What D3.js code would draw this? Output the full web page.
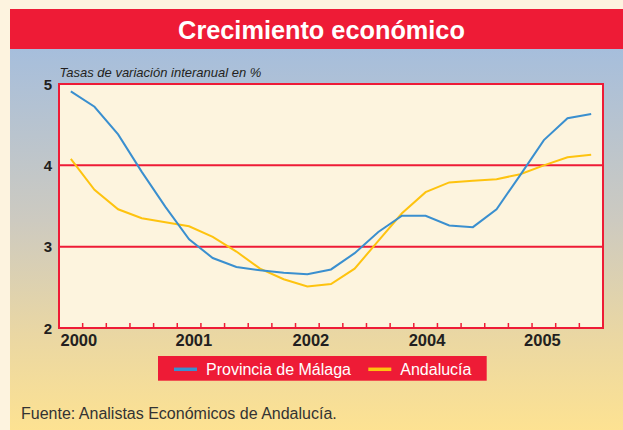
<!DOCTYPE html>
<html>
<head>
<meta charset="utf-8">
<script src="https://cdn.jsdelivr.net/npm/d3@7"></script>
<style>
  body { margin: 0; background: #fdf3df; }
  svg { display: block; font-family: "Liberation Sans", Arial, sans-serif; }
</style>
</head>
<body>
<div id="chart"></div>
<script>
// quarterly data, 2000 Q1 .. 2005 Q3
var malaga = [4.91, 4.72, 4.38, 3.92, 3.49, 3.09, 2.86, 2.75, 2.71, 2.68, 2.66, 2.72,
  2.92, 3.18, 3.38, 3.38, 3.26, 3.24, 3.46, 3.88, 4.31, 4.58, 4.63]
var andalucia = [4.08, 3.70, 3.46, 3.35, 3.30, 3.25, 3.12, 2.94, 2.73, 2.60, 2.51, 2.54,
  2.73, 3.07, 3.41, 3.67, 3.79, 3.81, 3.83, 3.89, 4.00, 4.10, 4.13]
var yTicks = [2, 3, 4, 5]
var gridValues = [3, 4]
var yearLabels = ['2000', '2001', '2002', '2004', '2005']
var yearLabelAt = [0.84, 5.7, 10.65, 15.56, 20.44] // position in quarters
var seriesNames = ['Provincia de Málaga', 'Andalucía']

var width = 623, height = 430
var red = '#ee1b36', blue = '#3a8fcf', yellow = '#fec30f', ink = '#231f20'

var svg = d3.select('#chart').append('svg')
  .attr('width', width)
  .attr('height', height)

var grad = svg.append('defs').append('linearGradient')
  .attr('id', 'bg').attr('x1', 0).attr('y1', 0).attr('x2', 0).attr('y2', 1)
grad.append('stop').attr('offset', '0%').attr('stop-color', '#a6bedc')
grad.append('stop').attr('offset', '45%').attr('stop-color', '#cdcac0')
grad.append('stop').attr('offset', '75%').attr('stop-color', '#ead7a3')
grad.append('stop').attr('offset', '100%').attr('stop-color', '#fde292')

// panel + header
svg.append('rect').attr('x', 10).attr('y', 49).attr('width', width - 10).attr('height', height - 49)
  .attr('fill', 'url(#bg)')
svg.append('rect').attr('x', 10).attr('y', 9).attr('width', width - 10).attr('height', 40)
  .attr('fill', red)
svg.append('text').attr('x', 321.5).attr('y', 38.5)
  .attr('text-anchor', 'middle')
  .attr('fill', '#fff').attr('font-size', 25.3).attr('font-weight', 'bold')
  .text('Crecimiento económico')

var x = d3.scaleLinear().domain([0, malaga.length]).range([59, 603])
var y = d3.scaleLinear().domain([2, 5]).range([328, 84])

svg.append('rect')
  .attr('x', x(0)).attr('y', y(5))
  .attr('width', x(malaga.length) - x(0)).attr('height', y(2) - y(5))
  .attr('fill', '#fdf4de')

svg.selectAll('.grid').data(gridValues).enter().append('line')
  .attr('class', 'grid')
  .attr('x1', x(0)).attr('x2', x(malaga.length))
  .attr('y1', function(d){return y(d)}).attr('y2', function(d){return y(d)})
  .attr('stroke', red).attr('stroke-width', 2)

// ticks on the bottom border
svg.selectAll('.tick').data(d3.range(1, malaga.length)).enter().append('line')
  .attr('class', 'tick')
  .attr('x1', function(d){return x(d)}).attr('x2', function(d){return x(d)})
  .attr('y1', y(2)).attr('y2', y(2) - 5)
  .attr('stroke', red).attr('stroke-width', 1.5)

svg.append('rect')
  .attr('x', x(0)).attr('y', y(5))
  .attr('width', x(malaga.length) - x(0)).attr('height', y(2) - y(5))
  .attr('fill', 'none').attr('stroke', red).attr('stroke-width', 2)

var line = d3.line()
  .x(function(d, i){return x(i + 0.5)})
  .y(function(d){return y(d)})

svg.append('path').datum(andalucia).attr('d', line)
  .attr('fill', 'none').attr('stroke', yellow).attr('stroke-width', 2)
svg.append('path').datum(malaga).attr('d', line)
  .attr('fill', 'none').attr('stroke', blue).attr('stroke-width', 2)

svg.selectAll('.ylab').data(yTicks).enter().append('text')
  .attr('class', 'ylab')
  .attr('x', 52).attr('y', function(d){return y(d) + 5.5})
  .attr('text-anchor', 'end')
  .attr('font-size', 15).attr('font-weight', 'bold').attr('fill', ink)
  .text(function(d){return d})

svg.selectAll('.xlab').data(yearLabels).enter().append('text')
  .attr('class', 'xlab')
  .attr('x', function(d, i){return x(yearLabelAt[i])})
  .attr('y', 345.5)
  .attr('text-anchor', 'middle')
  .attr('font-size', 16.5).attr('font-weight', 'bold').attr('fill', ink)
  .text(function(d){return d})

svg.append('text').attr('x', 59.5).attr('y', 76.5)
  .attr('font-size', 13).attr('font-style', 'italic').attr('fill', ink)
  .text('Tasas de variación interanual en %')

// legend
var legend = svg.append('g')
legend.append('rect').attr('x', 158).attr('y', 356).attr('width', 328.7).attr('height', 24.7)
  .attr('fill', red)
var legendX = [174, 368.3]
var legendColors = [blue, yellow]
var items = legend.selectAll('.item').data(seriesNames).enter().append('g')
  .attr('transform', function(d, i){return 'translate(' + legendX[i] + ',369.3)'})
items.append('line').attr('x1', 0).attr('x2', 23).attr('y1', 0).attr('y2', 0)
  .attr('stroke', function(d, i){return legendColors[i]}).attr('stroke-width', 3.5)
items.append('text').attr('x', 32).attr('y', 5.5)
  .attr('font-size', 16).attr('fill', '#fff')
  .text(function(d){return d})

svg.append('text').attr('x', 21).attr('y', 418.5)
  .attr('font-size', 16).attr('fill', '#333')
  .text('Fuente: Analistas Económicos de Andalucía.')
</script>
</body>
</html>
